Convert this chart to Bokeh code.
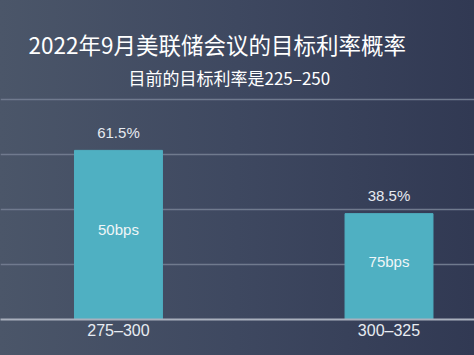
from bokeh.plotting import figure
from bokeh.models import Range1d, FixedTicker, ColumnDataSource, LabelSet, Label
from bokeh.core.properties import value
from bokeh.embed import file_html
from bokeh.resources import INLINE

categories = ["275–300", "300–325"]
probabilities = [61.5, 38.5]
hike_labels = ["50bps", "75bps"]
pct_labels = ["61.5%", "38.5%"]
grid_ticks = [20, 40, 60, 80]

title_text = "2022年9月美联储会议的目标利率概率"
subtitle_text = "目前的目标利率是225–250"

xs = [i + 0.5 for i in range(len(categories))]
src = ColumnDataSource(dict(x=xs, top=probabilities, mid=[v / 2 for v in probabilities],
                            hike=hike_labels, pct=pct_labels))

p = figure(width=474, height=355, output_backend="svg", toolbar_location=None,
           x_range=Range1d(0.064, 1.816), y_range=Range1d(0, 116),
           y_axis_location=None, min_border_left=0, min_border_right=0,
           min_border_top=0, min_border_bottom=36)
p.styles = {"background": "linear-gradient(90deg, #4b5669 0%, #3e4860 50%, #313953 100%)"}
p.background_fill_color = None
p.border_fill_color = None
p.outline_line_color = None

p.xgrid.grid_line_color = None
p.ygrid.ticker = FixedTicker(ticks=grid_ticks)
p.ygrid.grid_line_color = "#707a8e"
p.ygrid.grid_line_width = 1.5

p.vbar(x="x", top="top", width=0.325, bottom=0, source=src, color="#4fb0c2")

xa = p.xaxis[0]
xa.ticker = FixedTicker(ticks=xs)
xa.major_label_overrides = {x: c for x, c in zip(xs, categories)}
xa.major_tick_line_color = None
xa.minor_tick_line_color = None
xa.axis_line_color = "#a9b0bd"
xa.axis_line_width = 2
xa.major_label_standoff = -4
xa.major_label_text_font = "Liberation Sans"
xa.major_label_text_font_size = "16px"
xa.major_label_text_color = "#e8ecf2"

p.add_layout(LabelSet(x="x", y="top", text="pct", source=src, y_offset=18,
                      text_align="center", text_baseline="middle",
                      text_font=value("Liberation Sans"), text_font_size=value("15px"),
                      text_color="#e6eaf0"))
p.add_layout(LabelSet(x="x", y="mid", text="hike", source=src, y_offset=5,
                      text_align="center", text_baseline="middle",
                      text_font=value("Liberation Sans"), text_font_size=value("15px"),
                      text_color="#f0f6f8"))

p.add_layout(Label(x=28, y=276, x_units="screen", y_units="screen", text=title_text,
                   text_baseline="middle", text_align="left",
                   text_font="Noto Sans CJK SC", text_font_size="22.5px",
                   text_color="#ffffff"))
p.add_layout(Label(x=128, y=242, x_units="screen", y_units="screen", text=subtitle_text,
                   text_baseline="middle", text_align="left",
                   text_font="Noto Sans CJK SC", text_font_size="17px",
                   text_color="#ffffff"))

open("out.html", "w").write(file_html(p, INLINE))
